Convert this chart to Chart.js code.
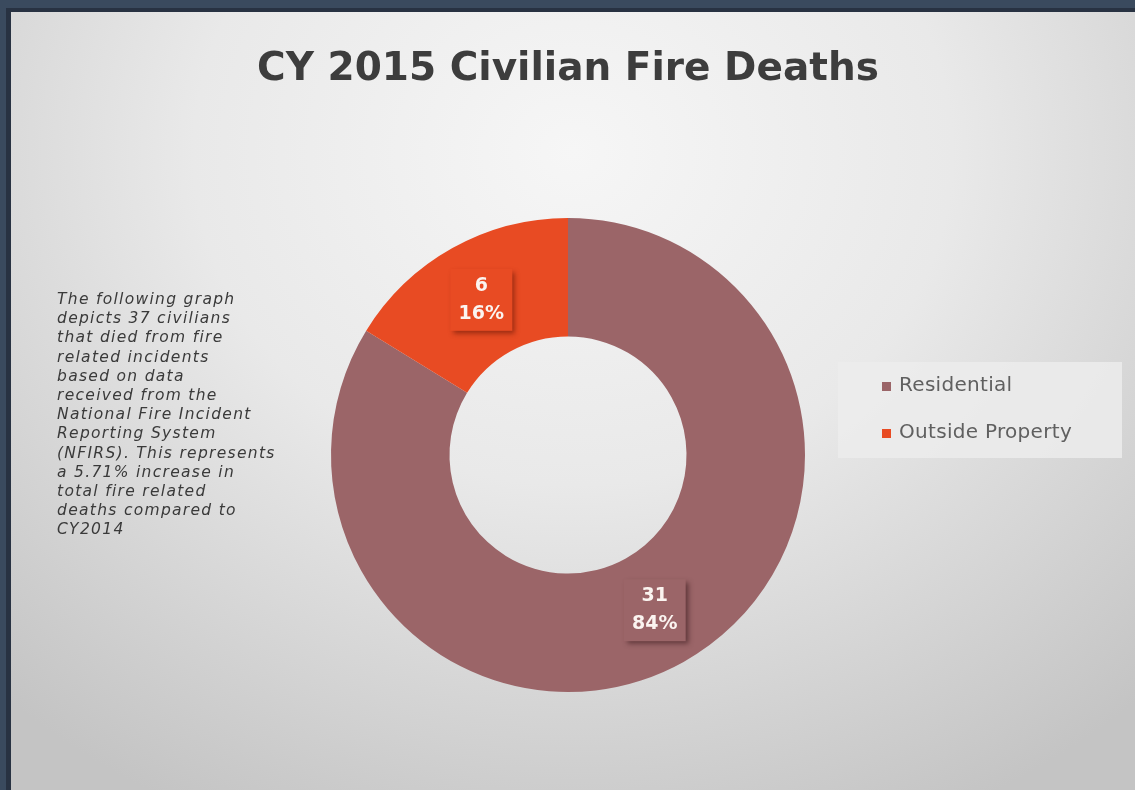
<!DOCTYPE html>
<html lang="en">
<head>
<meta charset="utf-8">
<title>CY 2015 Civilian Fire Deaths</title>
<script src="https://cdn.jsdelivr.net/npm/chart.js@4"></script>
<style>
  html, body { margin: 0; padding: 0; }
  body {
    width: 1135px; height: 790px; overflow: hidden;
    background: #3a4a5e;
  }
  /* moldura escura + fundo cinza em degradê */
  .frame {
    position: absolute; left: 6px; top: 8px; width: 1129px; height: 782px;
    background: #283242;
  }
  .slide {
    position: absolute; left: 11px; top: 12px; width: 1124px; height: 778px;
    background: radial-gradient(ellipse 75% 95% at 50% 18%, #f6f6f6 0%, #e9e9e9 45%, #c4c4c4 100%);
  }
  canvas { display: block; }
</style>
</head>
<body>
<div class="frame"></div>
<div class="slide">
  <canvas id="fire-chart" width="1124" height="778"></canvas>
</div>
<script>
// --- DADOS ---
const categories = ['Residential', 'Outside Property'];
const deaths = [31, 6];
const percentLabels = ['84%', '16%'];
const sliceColors = ['#9b6568', '#e84b23'];
const labelShadows = ['rgba(70,35,38,0.7)', 'rgba(120,30,10,0.7)'];

const chartTitle = 'CY 2015 Civilian Fire Deaths';
const noteLines = [
  'The following graph',
  'depicts 37 civilians',
  'that died from fire',
  'related incidents',
  'based on data',
  'received from the',
  'National Fire Incident',
  'Reporting System',
  '(NFIRS). This represents',
  'a 5.71% increase in',
  'total fire related',
  'deaths compared to',
  'CY2014'
];

// Título + texto lateral
const slideText = {
  id: 'slideText',
  afterDraw(chart) {
    const ctx = chart.ctx;
    ctx.save();
    ctx.fillStyle = '#3d3d3d';
    ctx.textAlign = 'center';
    ctx.textBaseline = 'middle';
    ctx.font = 'bold 39px "DejaVu Sans"';
    ctx.fillText(chartTitle, 557, 58);

    ctx.fillStyle = '#3a3a3a';
    ctx.textAlign = 'left';
    ctx.font = 'italic 15.5px "DejaVu Sans"';
    ctx.letterSpacing = '1.3px';
    noteLines.forEach((line, i) => {
      ctx.fillText(line, 46, 288 + i * 19.2);
    });
    ctx.restore();
  }
};

// Legenda desenhada à mão (caixa clara à direita)
const sideLegend = {
  id: 'sideLegend',
  afterDraw(chart) {
    const ctx = chart.ctx;
    const ds = chart.data.datasets[0];
    ctx.save();
    ctx.fillStyle = 'rgba(236,236,236,0.85)';
    ctx.fillRect(827, 350, 284, 96);
    ctx.font = '20px "DejaVu Sans"';
    ctx.letterSpacing = '0.3px';
    ctx.textBaseline = 'middle';
    chart.data.labels.forEach((lab, i) => {
      const y = 374 + i * 47;
      ctx.fillStyle = ds.backgroundColor[i];
      ctx.fillRect(871, y - 4, 9, 9);
      ctx.fillStyle = '#606060';
      ctx.fillText(lab, 888, y);
    });
    ctx.restore();
  }
};

// Rótulos das fatias: caixa com sombra, valor e percentual
const sliceLabels = {
  id: 'sliceLabels',
  afterDatasetsDraw(chart) {
    const ctx = chart.ctx;
    const meta = chart.getDatasetMeta(0);
    const ds = chart.data.datasets[0];
    meta.data.forEach((arc, i) => {
      const p = arc.tooltipPosition();
      const w = 62, h = 62;
      ctx.save();
      ctx.shadowColor = labelShadows[i];
      ctx.shadowBlur = 5;
      ctx.shadowOffsetX = 3;
      ctx.shadowOffsetY = 3;
      ctx.fillStyle = ds.backgroundColor[i];
      ctx.fillRect(p.x - w / 2, p.y - h / 2, w, h);
      ctx.restore();

      ctx.save();
      ctx.fillStyle = '#fbf4f0';
      ctx.font = 'bold 19px "DejaVu Sans"';
      ctx.textAlign = 'center';
      ctx.textBaseline = 'middle';
      ctx.fillText(String(ds.data[i]), p.x, p.y - 14);
      ctx.fillText(percentLabels[i], p.x, p.y + 14);
      ctx.restore();
    });
  }
};

document.addEventListener('DOMContentLoaded', () => {
  const ctx = document.getElementById('fire-chart').getContext('2d');
  new Chart(ctx, {
    type: 'doughnut',
    data: {
      labels: categories,
      datasets: [{
        data: deaths,
        backgroundColor: sliceColors,
        borderWidth: 0
      }]
    },
    options: {
      responsive: false,
      animation: false,
      cutout: '50%',
      layout: { padding: { left: 320, right: 330, top: 206, bottom: 98 } },
      plugins: {
        legend: { display: false },
        tooltip: { enabled: false },
        title: { display: false }
      }
    },
    plugins: [slideText, sideLegend, sliceLabels]
  });
});
</script>
</body>
</html>
